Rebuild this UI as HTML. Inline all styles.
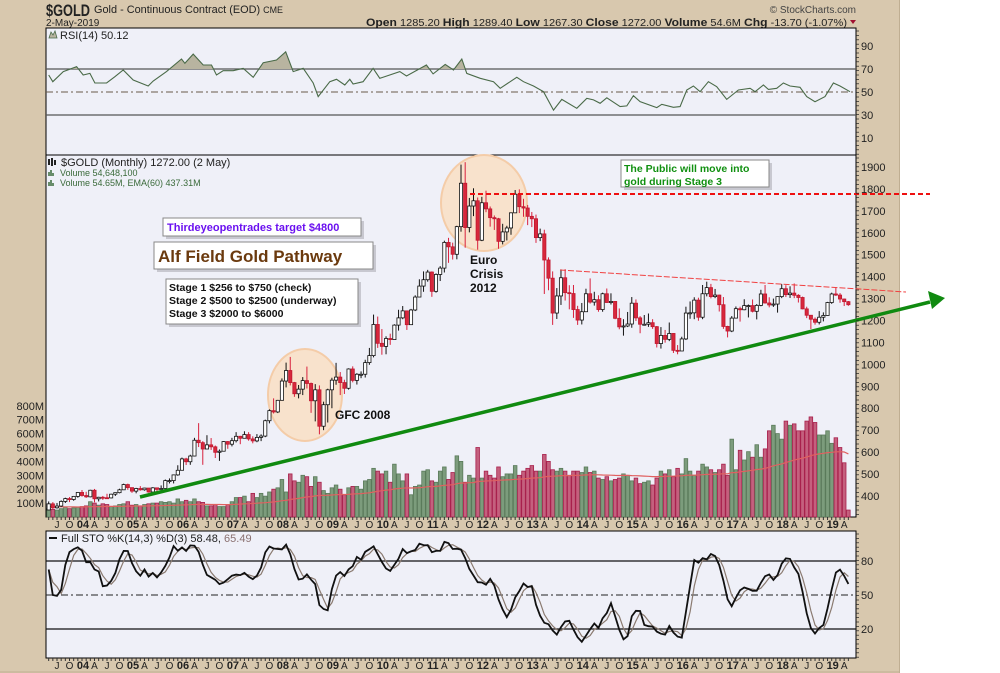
<!DOCTYPE html>
<html><head><meta charset="utf-8">
<style>
html,body{margin:0;padding:0;background:#fff;}
body{width:1000px;height:673px;overflow:hidden;font-family:"Liberation Sans",sans-serif;}
svg{display:block}
</style></head>
<body>
<svg id="chart" width="1000" height="673" viewBox="0 0 1000 673" xmlns="http://www.w3.org/2000/svg" font-family="Liberation Sans, sans-serif">
<rect x="0" y="0" width="900" height="673" fill="#d8c8ae"/>
<line x1="899.5" y1="0" x2="899.5" y2="673" stroke="#bfae92"/>
<line x1="0" y1="672" x2="900" y2="672" stroke="#bfae92"/>
<text x="46" y="16" font-size="17" font-weight="bold" fill="#222" textLength="44" lengthAdjust="spacingAndGlyphs">$GOLD</text>
<text x="94" y="13" font-size="11" fill="#222" textLength="189" lengthAdjust="spacingAndGlyphs">Gold - Continuous Contract (EOD) <tspan font-size="9">CME</tspan></text>
<text x="46" y="26" font-size="10" fill="#222">2-May-2019</text>
<text x="366" y="26" font-size="10" fill="#222" textLength="481" lengthAdjust="spacingAndGlyphs"><tspan font-weight="bold" font-size="11">Open</tspan> 1285.20 <tspan font-weight="bold" font-size="11">High</tspan> 1289.40 <tspan font-weight="bold" font-size="11">Low</tspan> 1267.30 <tspan font-weight="bold" font-size="11">Close</tspan> 1272.00 <tspan font-weight="bold" font-size="11">Volume</tspan> 54.6M <tspan font-weight="bold" font-size="11">Chg</tspan> -13.70 (-1.07%)</text>
<path d="M850 20 L856 20 L853 24 Z" fill="#a01030"/>
<text x="856" y="13" font-size="10" fill="#444" text-anchor="end">© StockCharts.com</text>

<rect x="46" y="28" width="810" height="127" fill="#eff0f8" stroke="#000"/>
<rect x="46" y="155" width="810" height="362" fill="#eff0f8" stroke="#000"/>
<rect x="46" y="531" width="810" height="127" fill="#eff0f8" stroke="#000"/>
<g id="layer"></g>
</svg>
<script>
// ===== Data (monthly, May 2003 .. May 2019) =====
const startYear = 2003, startMonth = 4; // May 2003 (0-based month)
const closes = [364,346,354,375,388,384,398,416,
402,396,426,387,394,392,391,408,415,428,452,438,
422,434,428,436,418,437,430,434,470,470,496,517,
569,556,582,654,643,614,633,624,599,604,648,636,
652,672,663,680,660,651,667,673,743,789,783,836,
924,972,917,866,887,926,913,834,884,718,816,884,
928,942,917,891,979,927,955,955,1008,1040,1182,1096,
1082,1118,1113,1179,1212,1244,1181,1248,1307,1357,1386,1421,
1333,1410,1439,1556,1536,1502,1628,1826,1624,1722,1746,1566,
1737,1709,1669,1664,1561,1604,1622,1691,1776,1719,1713,1675,
1664,1578,1595,1476,1393,1234,1312,1395,1327,1323,1250,1202,
1240,1322,1284,1295,1250,1322,1282,1287,1210,1171,1175,1184,
1279,1212,1183,1183,1190,1172,1095,1132,1114,1141,1064,1061,
1116,1234,1235,1293,1215,1322,1350,1309,1316,1272,1173,1152,
1211,1254,1249,1268,1268,1242,1269,1321,1280,1271,1275,1309,
1345,1318,1325,1315,1305,1253,1224,1206,1192,1215,1223,1282,
1321,1316,1298,1286,1272];
const highs = [375,372,368,380,392,395,400,418,
427,419,428,432,396,400,410,410,416,433,456,456,
429,437,445,437,436,440,438,448,475,480,498,540,
575,574,588,665,732,650,677,664,630,612,650,650,
665,691,674,695,691,672,682,681,748,795,845,838,
936,1008,1034,920,906,942,990,917,910,904,830,889,
939,1007,965,930,982,991,960,968,1021,1075,1227,1218,
1161,1128,1140,1183,1249,1266,1244,1253,1315,1388,1424,1431,
1424,1415,1448,1564,1577,1555,1632,1911,1922,1759,1803,1761,
1764,1792,1720,1679,1668,1641,1632,1693,1795,1798,1755,1727,
1695,1683,1619,1614,1488,1424,1348,1433,1434,1361,1362,1267,
1280,1345,1392,1331,1315,1327,1346,1324,1288,1255,1206,1239,
1307,1296,1220,1225,1232,1206,1175,1170,1157,1191,1142,1088,
1126,1263,1287,1306,1304,1362,1377,1367,1344,1318,1307,1176,
1220,1264,1263,1297,1273,1296,1275,1340,1362,1306,1300,1310,
1366,1361,1356,1369,1320,1309,1263,1222,1214,1243,1237,1285,
1327,1349,1325,1300,1289];
const lows = [335,340,342,350,368,372,378,392,
397,391,394,371,375,382,387,389,400,412,427,428,
414,412,424,424,415,417,418,429,433,457,457,492,
516,541,542,580,623,542,614,610,573,560,607,615,
626,644,636,662,652,640,645,650,668,731,776,778,
846,895,904,852,845,860,890,779,740,681,700,735,
800,907,860,865,885,918,908,937,940,998,1032,1075,
1044,1046,1089,1114,1154,1206,1157,1180,1243,1310,1331,1377,
1308,1327,1380,1419,1463,1478,1479,1605,1532,1602,1676,1523,
1562,1694,1628,1613,1527,1547,1565,1591,1690,1690,1673,1635,
1626,1554,1562,1321,1338,1180,1207,1271,1291,1251,1212,1180,
1182,1239,1277,1268,1240,1240,1281,1273,1206,1160,1131,1170,
1167,1198,1142,1177,1171,1162,1077,1072,1099,1106,1052,1046,
1062,1111,1208,1206,1199,1206,1310,1301,1302,1241,1162,1123,
1147,1209,1195,1247,1214,1237,1205,1265,1277,1260,1262,1236,
1302,1307,1303,1302,1282,1251,1211,1161,1181,1182,1196,1222,
1276,1312,1281,1266,1267];
const firstOpen = 336;
const volumesM = [60,55,50,60,70,60,65,70,
75,80,110,100,85,95,90,75,80,90,95,110,
85,90,80,90,95,100,100,110,105,110,100,130,
110,120,110,130,110,105,80,80,90,75,75,90,
110,140,140,150,110,170,140,170,150,180,200,210,
270,180,310,260,250,300,290,220,290,250,190,170,
210,230,200,160,210,220,220,200,260,270,350,330,
310,330,250,380,310,260,310,160,220,230,330,340,
260,250,330,360,270,320,440,400,250,300,280,500,
280,330,300,280,360,290,310,310,370,300,330,350,
370,330,330,450,400,340,330,350,330,300,330,330,
320,360,320,330,280,270,290,260,270,280,310,300,
260,280,240,250,260,230,280,330,310,340,290,350,
310,420,330,300,330,380,360,340,320,340,380,300,
560,340,480,410,470,430,520,430,490,620,660,600,
560,690,660,670,620,620,690,720,680,590,590,620,
530,570,500,390,50];
// RSI(14) readings (month index from May 2003, value)
const rsiMonths = [0,1,3.5,6.7,8.3,9.9,11.1,13.9,15.9,17.9,20.3,23.9,25.1,28.3,31.9,32.7,34.7,37.1,39.1,40.3,41.9,44.3,46.7,49.1,51.5,54.7,56.9,58.7,61.1,63.5,64.7,67.5,69.1,71.1,72.3,73.1,75.5,77.9,79.5,84.3,85.9,90.7,92.3,95.2,97.2,99.2,100.4,103.6,106.8,108.4,112.4,114,116.4,118.8,121.2,123.2,126.8,129.2,130.8,132.4,134,137.2,138.8,140.4,142,146,147.2,150,151.6,153.2,154.8,156.4,158.4,160.4,162.8,165.6,168.4,169.6,171.6,172.8,174.8,176.4,178,180.4,182,184,186.4,188.4,190,192.4];
const rsiValues = [64.8,59,67.7,72,64.8,66.2,57.8,57.8,63.3,69.1,60.4,55.2,59.6,67.7,78.7,75,83,73.5,73.5,64.8,68.5,68.5,70.6,62.8,75.5,77.8,85,67.7,70.6,57.8,46,59,61,56.1,61,57,59,70.6,61.9,67.7,63.9,73.5,65.7,74,69.1,78.7,66.2,61.9,59,53.2,62.8,59,55.2,50.3,34.3,43.6,35.8,44.5,43.1,40.2,45,37.3,37.9,46.8,41.6,36.4,39.3,36.7,37.3,51.7,55.2,50.3,59,54.6,43.6,51.7,53.2,50.3,56.1,52.3,53.2,57.8,55.2,54.1,46,41.6,46,57.8,55.2,50.3];
const rsiTicks = [90,70,50,30,10];
const priceTicks = [1900,1800,1700,1600,1500,1400,1300,1200,1100,1000,900,800,700,600,500,400];
const volTicks = [100,200,300,400,500,600,700,800];
const stoTicks = [80,50,20];

// ===== Axis functions =====
const X0 = 82, DX = 4.165;
function xAt(i){ return X0 + (i - 8) * DX; }
function yPrice(v){ return 167 + (1900 - v) * 0.2193; }
function yVol(m){ return 517 - m * 0.139; }
function yRsi(v){ return 92 - (v - 50) * 1.15; }
function ySto(v){ return 595 - (v - 50) * 1.133; }

const NS = "http://www.w3.org/2000/svg";
const layer = document.getElementById('layer');
function mk(tag, attrs, parent){
  const e = document.createElementNS(NS, tag);
  for (const k in attrs) e.setAttribute(k, attrs[k]);
  (parent || layer).appendChild(e);
  return e;
}
const N = closes.length;
const opens = closes.map((c,i)=> i===0 ? firstOpen : closes[i-1]);

// ===== RSI panel =====
const rsiG = mk('g', {});


[70,30].forEach(v=>{ mk('line',{x1:46,x2:856,y1:yRsi(v),y2:yRsi(v),stroke:'#555','stroke-width':1.2},rsiG); });
mk('line',{x1:46,x2:856,y1:yRsi(50),y2:yRsi(50),stroke:'#6a5a4a','stroke-dasharray':'7,3,2,3'},rsiG);
const rpts = rsiValues.map((v,i)=>[xAt(rsiMonths[i]), yRsi(v)]);
const RN = rpts.length;
const clipId='rsiclip';
const defs = mk('defs',{});
const cp = mk('clipPath',{id:clipId},defs);
mk('rect',{x:46,y:28,width:810,height:yRsi(70)-28},cp);
const area = 'M'+rpts[0][0]+','+yRsi(70)+' '+rpts.map(p=>'L'+p[0].toFixed(1)+','+p[1].toFixed(1)).join(' ')+' L'+rpts[RN-1][0]+','+yRsi(70)+'Z';
const rf = mk('path',{d:area,fill:'#b8b4a0','clip-path':'url(#'+clipId+')'},rsiG);


const rl = mk('polyline',{points:rpts.map(p=>p[0].toFixed(1)+','+p[1].toFixed(1)).join(' '),fill:'none',stroke:'#4a6a48','stroke-width':1.1},rsiG);


rsiTicks.forEach(v=>{
  const t = mk('text',{x:861,y:yRsi(v)+4,'font-size':11,fill:'#222'},rsiG); t.textContent=v;
  
  
});
const rlab = mk('text',{x:60,y:39,'font-size':11,fill:'#222'}); rlab.textContent='RSI(14) 50.12';


mk('path',{d:'M49 38 L51 32 L53 35 L55 31 L57 38 Z',fill:'#b8b4a0',stroke:'#4a6a48','stroke-width':0.8});

// ===== Annotations behind price =====
const e1 = mk('ellipse',{cx:305,cy:395,rx:37,ry:46,fill:'#f8e2cc',stroke:'#f4cca8','stroke-width':2});


const e2 = mk('ellipse',{cx:484,cy:203,rx:43,ry:48,fill:'#f8e2cc',stroke:'#f4cca8','stroke-width':2});



// ===== Volume bars =====
const volG = mk('g',{});


volumesM.forEach((v,i)=>{
  const up = closes[i] >= opens[i];
  const b = mk('rect',{x:xAt(i)-1.8,y:yVol(v),width:3.6,height:517-yVol(v),fill:up?'#7c9c7c':'#c4607e',stroke:up?'#5a7a5a':'#a8204c','stroke-width':0.8},volG);
  
  
});
let ema = 75; const emaPts=[];
const k = 2/61;
volumesM.forEach((v,i)=>{ ema = i===0? 75 : ema + k*(v-ema); emaPts.push(xAt(i).toFixed(1)+','+yVol(ema).toFixed(1)); });
const emaL = mk('polyline',{points:emaPts.join(' '),fill:'none',stroke:'#e06060','stroke-width':1.2});


volTicks.forEach(v=>{
  const t = mk('text',{x:44,y:yVol(v)+4,'font-size':11,fill:'#222','text-anchor':'end'}); t.textContent=v+'M';
  
  
});

// ===== Candles =====
const cG = mk('g',{});


closes.forEach((c,i)=>{
  const o = opens[i], up = c >= o, x = xAt(i);
  const col = up ? '#111' : '#d8203c';
  const w = mk('line',{x1:x,x2:x,y1:yPrice(highs[i]),y2:yPrice(lows[i]),stroke:col,'stroke-width':1},cG);
  
  
  const yt = yPrice(Math.max(o,c)), yb = yPrice(Math.min(o,c));
  const b = mk('rect',{x:x-1.6,y:yt,width:3.2,height:Math.max(yb-yt,1),fill:up?'#fff':'#d8283c',stroke:up?'#111':'#c01830','stroke-width':0.8},cG);
  
  
});
priceTicks.forEach(v=>{
  const t = mk('text',{x:861,y:yPrice(v)+4,'font-size':11,fill:'#222'}); t.textContent=v;
  
  
});

// ===== Trend lines =====
const rd = mk('line',{x1:470,y1:194,x2:930,y2:194,stroke:'#ee1010','stroke-width':2,'stroke-dasharray':'5,3'});


const td = mk('line',{x1:560,y1:270,x2:906,y2:292,stroke:'#f04040','stroke-width':1,'stroke-dasharray':'6,2'});


const gl = mk('line',{x1:140,y1:497,x2:930,y2:302,stroke:'#108a10','stroke-width':3.5});


const ga = mk('path',{d:'M945 298 L928 291 L932 309 Z',fill:'#108a10'});



// ===== X axis labels =====
function xLabels(y){
  for (let i=0;i<N;i++){
    const m = (startMonth + i) % 12, yr = startYear + Math.floor((startMonth+i)/12);
    const tk = mk('line',{x1:xAt(i),x2:xAt(i),y1:y-11,y2:y-8,stroke:'#333'});
    
    
    let lab = null;
    if (m===0) lab = String(yr%100).padStart(2,'0');
    else if (m===3) lab='A'; else if (m===6) lab='J'; else if (m===9) lab='O';
    if (lab){
      const t = mk('text',{x:xAt(i)+(m===0?1:0),y:y,'font-size':m===0?11:10,'font-weight':m===0?'bold':'normal',fill:'#222','text-anchor':'middle'});
      t.textContent = lab;
      
      
    }
  }
}
xLabels(528); xLabels(669);

// ===== Full stochastic (14,3,3) =====
const fastK = [];
for (let i=0;i<N;i++){
  const s = Math.max(0,i-13);
  const hh = Math.max(...highs.slice(s,i+1)), ll = Math.min(...lows.slice(s,i+1));
  fastK.push(hh===ll?50:100*(closes[i]-ll)/(hh-ll));
}
const sma3 = a => a.map((v,i)=>{ const s=a.slice(Math.max(0,i-2),i+1); return s.reduce((p,q)=>p+q,0)/s.length; });
const stoK = sma3(fastK), stoD = sma3(stoK);
const stoG = mk('g',{});


[80,20].forEach(v=>mk('line',{x1:46,x2:856,y1:ySto(v),y2:ySto(v),stroke:'#111','stroke-width':1.2},stoG));
mk('line',{x1:46,x2:856,y1:ySto(50),y2:ySto(50),stroke:'#222','stroke-dasharray':'7,3,2,3'},stoG);
const dl = mk('polyline',{points:stoD.map((v,i)=>xAt(i).toFixed(1)+','+ySto(v).toFixed(1)).join(' '),fill:'none',stroke:'#8a7a70','stroke-width':1.2},stoG);


const kl = mk('polyline',{points:stoK.map((v,i)=>xAt(i).toFixed(1)+','+ySto(v).toFixed(1)).join(' '),fill:'none',stroke:'#111','stroke-width':1.8},stoG);


stoTicks.forEach(v=>{
  const t = mk('text',{x:861,y:ySto(v)+4,'font-size':11,fill:'#222'}); t.textContent=v;
  
  
});
mk('line',{x1:49,x2:57,y1:538,y2:538,stroke:'#111','stroke-width':2});
const sl = mk('text',{x:61,y:542,'font-size':11,fill:'#222'});
sl.innerHTML = 'Full STO %K(14,3) %D(3) 58.48, <tspan fill="#8a7070">65.49</tspan>';



[[28,155],[155,517],[531,658]].forEach(([a,b])=>{ for(let y=a+3;y<b;y+=4.4){ mk('line',{x1:856,x2:859,y1:y,y2:y,stroke:'#222','stroke-width':0.7}); } });

// ===== Price legend =====
const pl = mk('text',{x:61,y:166,'font-size':11,fill:'#222'}); pl.textContent='$GOLD (Monthly) 1272.00 (2 May)';


mk('path',{d:'M49 165 L49 159 M52 166 L52 158 M55 165 L55 160',stroke:'#222','stroke-width':2});
const v1 = mk('text',{x:60,y:176,'font-size':9,fill:'#3a6a3a'}); v1.textContent='Volume 54,648,100';


const v2 = mk('text',{x:60,y:186,'font-size':9,fill:'#3a6a3a'}); v2.textContent='Volume 54.65M, EMA(60) 437.31M';


mk('path',{d:'M49 176 v-4 M51 176 v-6 M53 176 v-3 M49 186 v-4 M51 186 v-6 M53 186 v-3',stroke:'#3a6a3a','stroke-width':1.5});

// ===== Text annotations =====
function box(x,y,w,h,name){
  mk('rect',{x:x+3,y:y+3,width:w,height:h,fill:'#c8c8d0'});
  const r = mk('rect',{x:x,y:y,width:w,height:h,fill:'#fff',stroke:'#888'});
  
  
}
box(163,218,198,18,'target-box');
const t1 = mk('text',{x:167,y:231,'font-size':11,'font-weight':'bold',fill:'#6a10f0'}); t1.textContent='Thirdeyeopentrades target $4800';


box(154,242,219,27,'pathway-title-box');
const t2 = mk('text',{x:158,y:262,'font-size':17,'font-weight':'bold',fill:'#6b3a0e'}); t2.textContent='Alf Field Gold Pathway';


box(166,279,192,45,'stages-box');
['Stage 1 $256 to $750 (check)','Stage 2 $500 to $2500 (underway)','Stage 3 $2000 to $6000'].forEach((s,j)=>{
  const t = mk('text',{x:169,y:291+j*13,'font-size':10.5,'font-weight':'bold',fill:'#111'}); t.textContent=s;
  
  
});
box(621,160,148,27,'public-note-box');
['The Public will move into','gold during Stage 3'].forEach((s,j)=>{
  const t = mk('text',{x:624,y:172+j*13,'font-size':10.5,'font-weight':'bold',fill:'#109010'}); t.textContent=s;
  
  
});
['Euro','Crisis','2012'].forEach((s,j)=>{
  const t = mk('text',{x:470,y:264+j*14,'font-size':12,'font-weight':'bold',fill:'#111'}); t.textContent=s;
  
  
});
const g8 = mk('text',{x:335,y:419,'font-size':12,'font-weight':'bold',fill:'#111'}); g8.textContent='GFC 2008';


</script>
</body></html>
